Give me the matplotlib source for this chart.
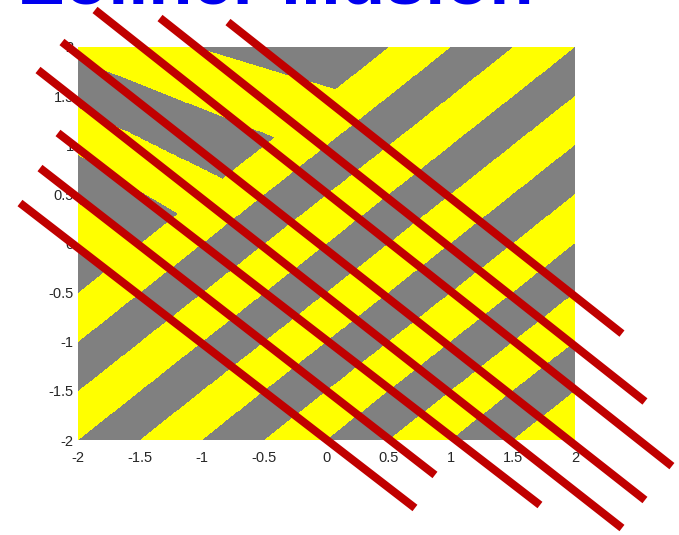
import numpy as np
import matplotlib
matplotlib.use("Agg")
import matplotlib.pyplot as plt
from matplotlib.colors import ListedColormap

# background stripes (data units)
stripe_period = 1.0           # one yellow + one gray band, measured along y - x
corner_split = 1.5            # y - x above this uses the fanned bands
fan_point = (-5.975, 3.857)   # fanned bands all point back to here
fan_start = 1.87              # first fan edge where it meets x = -2
fan_step = 0.485              # spacing of fan edges along x = -2

# red segments, start and end points
line_x0 = [-2.467, -2.306, -2.161, -2.322, -2.129, -1.863, -1.340, -0.793]
line_y0 = [0.412, 0.768, 1.125, 1.766, 2.051, 2.377, 2.295, 2.254]
line_x1 = [0.712, 0.873, 1.718, 2.378, 2.563, 2.780, 2.563, 2.378]
line_y1 = [-2.692, -2.356, -2.662, -2.896, -2.611, -2.266, -1.608, -0.917]

ticks = [-2, -1.5, -1, -0.5, 0, 0.5, 1, 1.5, 2]
tick_labels = ["-2", "-1.5", "-1", "-0.5", "0", "0.5", "1", "1.5", "2"]
title_text = "Zöllner illusion"


def stripe_image(n=800):
    xs = np.linspace(-2, 2, n)
    ys = np.linspace(-2, 2, n)
    X, Y = np.meshgrid(xs, ys)
    rise = np.mod(Y - X, stripe_period) < stripe_period / 2

    # where the ray from fan_point through (x, y) crosses x = -2
    px, py = fan_point
    hit = py + (Y - py) * (-2 - px) / (X - px)
    fan = np.mod(np.floor((hit - fan_start) / fan_step), 2) == 0

    return np.where(Y - X > corner_split, fan, rise).astype(float)


def main():
    plt.rcParams["font.family"] = ["Liberation Sans", "DejaVu Sans"]
    fig = plt.figure(figsize=(6.79, 5.35), dpi=100)
    ax = fig.add_axes([78 / 679, 95 / 535, 497 / 679, 393 / 535])

    cmap = ListedColormap(["#808080", "#ffff00"])
    ax.imshow(stripe_image(), extent=[-2, 2, -2, 2], origin="lower",
              cmap=cmap, vmin=0, vmax=1, aspect="auto", interpolation="nearest")

    for x0, y0, x1, y1 in zip(line_x0, line_y0, line_x1, line_y1):
        ax.plot([x0, x1], [y0, y1], color="#c00000", lw=5.8,
                solid_capstyle="butt", clip_on=False, zorder=3)

    ax.set_xlim(-2, 2)
    ax.set_ylim(-2, 2)
    ax.set_xticks(ticks)
    ax.set_xticklabels(tick_labels)
    ax.set_yticks(ticks)
    ax.set_yticklabels(tick_labels)
    ax.tick_params(length=0, labelsize=10.5, labelcolor="#262626")
    ax.tick_params(axis="x", pad=8)
    ax.tick_params(axis="y", pad=3)
    for s in ax.spines.values():
        s.set_visible(False)

    # big title sits mostly above the canvas, only its foot shows
    fig.text(20 / 679, 1 - 4 / 535, title_text, color="#0000ee",
             fontsize=52, fontweight="bold", va="baseline", ha="left")

    fig.savefig("out.png", dpi=100)
    plt.close(fig)


if __name__ == "__main__":
    main()
